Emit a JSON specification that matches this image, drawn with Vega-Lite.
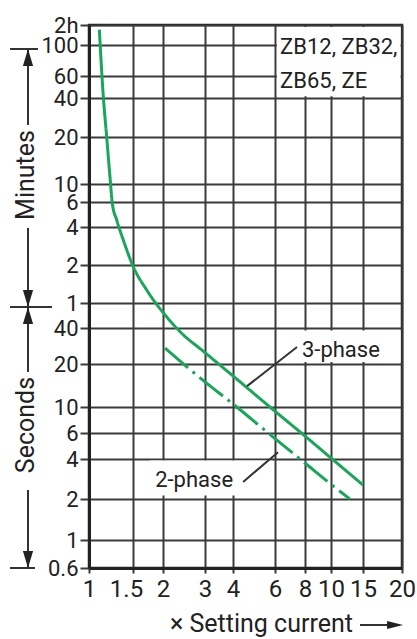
{
  "$schema": "https://vega.github.io/schema/vega-lite/v6.json",
  "autosize": {"type": "none"},
  "padding": {"left": 89, "top": 25, "right": 15, "bottom": 71},
  "width": 313,
  "height": 543,
  "background": "white",
  "datasets": {
    "boxes": [
      {"x": 6.11, "x2": 19.78, "y": 7070, "y2": 2480},
      {"x": 6.79, "x2": 19.78, "y": 38.1, "y2": 20.8},
      {"x": 1.766, "x2": 5.8, "y": 3.9, "y2": 2.125}
    ],
    "curves": [
      {"series": "3-phase", "x": 1.100, "y": 6900},
      {"series": "3-phase", "x": 1.141, "y": 2455},
      {"series": "3-phase", "x": 1.177, "y": 1205},
      {"series": "3-phase", "x": 1.213, "y": 668},
      {"series": "3-phase", "x": 1.240, "y": 352},
      {"series": "3-phase", "x": 1.291, "y": 269},
      {"series": "3-phase", "x": 1.372, "y": 189},
      {"series": "3-phase", "x": 1.505, "y": 116},
      {"series": "3-phase", "x": 1.711, "y": 76},
      {"series": "3-phase", "x": 2.07, "y": 48},
      {"series": "3-phase", "x": 2.36, "y": 37.2},
      {"series": "3-phase", "x": 3, "y": 24.9},
      {"series": "3-phase", "x": 4, "y": 16.5},
      {"series": "3-phase", "x": 6, "y": 9.2},
      {"series": "3-phase", "x": 8, "y": 5.72},
      {"series": "3-phase", "x": 10, "y": 4.06},
      {"series": "3-phase", "x": 15, "y": 2.55},
      {"series": "2-phase", "x": 2.04, "y": 27.1},
      {"series": "2-phase", "x": 3, "y": 15.0},
      {"series": "2-phase", "x": 4, "y": 10.5},
      {"series": "2-phase", "x": 6, "y": 5.5},
      {"series": "2-phase", "x": 8, "y": 3.73},
      {"series": "2-phase", "x": 10, "y": 2.58},
      {"series": "2-phase", "x": 12.7, "y": 2.0}
    ],
    "rules": [
      {"x": 0.570, "y": 5615, "x2": 0.570, "y2": 1486},
      {"x": 0.570, "y": 236, "x2": 0.570, "y2": 56.2},
      {"x": 0.570, "y": 56.2, "x2": 0.570, "y2": 17.6},
      {"x": 0.570, "y": 2.34, "x2": 0.570, "y2": 0.6},
      {"x": 0.483, "y": 5615, "x2": 0.625, "y2": 5615},
      {"x": 0.483, "y": 56.2, "x2": 0.711, "y2": 56.2},
      {"x": 0.483, "y": 0.6, "x2": 0.608, "y2": 0.6},
      {"x": 14.44, "y": 0.212, "x2": 18.3, "y2": 0.212},
      {"x": 7.41, "y": 27.7, "x2": 4.58, "y2": 14.0},
      {"x": 4.41, "y": 2.69, "x2": 6.18, "y2": 4.45}
    ],
    "arrows": [
      {"x": 0.570, "y": 5615, "dir": "up"},
      {"x": 0.570, "y": 56.2, "dir": "down"},
      {"x": 0.570, "y": 56.2, "dir": "up"},
      {"x": 0.570, "y": 0.6, "dir": "down"},
      {"x": 20.15, "y": 0.212, "dir": "right"}
    ],
    "sideLabels": [
      {"x": 0.562, "y": 685, "text": "Minutes"},
      {"x": 0.562, "y": 7.02, "text": "Seconds"}
    ],
    "notes": [
      {"x": 6.3, "y": 5810, "text": "ZB12, ZB32,"},
      {"x": 6.3, "y": 3283, "text": "ZB65, ZE"},
      {"x": 7.77, "y": 26.2, "text": "3-phase"},
      {"x": 1.855, "y": 2.78, "text": "2-phase"}
    ],
    "xTitle": [
      {"x": 13.2, "y": 0.216, "text": "× Setting current"}
    ]
  },
  "encoding": {
    "x": {
      "field": "x", "type": "quantitative",
      "scale": {"type": "log", "nice": false, "zero": false,
        "domain": [1, 1.5, 2, 3, 4, 6, 8, 10, 15, 20],
        "range": [0, 44, 74, 116, 144, 186, 216, 242, 274, 313]},
      "axis": {"values": [1, 1.5, 2, 3, 4, 6, 8, 10, 15, 20],
        "labelExpr": "'' + datum.value", "labelFlush": false, "labelOverlap": false,
        "labelFontSize": 24,
        "labelOffset": {"condition": {"test": "datum.value == 1.5", "value": -7}, "value": 0},
        "tickSize": 5, "labelPadding": 4, "title": null, "grid": true}
    },
    "y": {
      "field": "y", "type": "quantitative",
      "scale": {"type": "log", "nice": false, "zero": false,
        "domain": [0.6, 1, 2, 4, 6, 10, 20, 40, 60, 120, 240, 360, 600, 1200, 2400, 3600, 6000, 7200],
        "range": [543, 515, 474, 434, 408, 382, 339, 303, 278, 240, 202, 177, 159, 112, 73, 51, 20, 0]},
      "axis": {"values": [0.6, 1, 2, 4, 6, 10, 20, 40, 60, 120, 240, 360, 600, 1200, 2400, 3600, 6000, 7200],
        "labelExpr": "datum.value == 7200 ? '2h' : (datum.value >= 60 ? '' + (datum.value / 60) : '' + datum.value)",
        "labelOverlap": false, "labelFlush": false, "labelFontSize": 22,
        "tickSize": 9, "labelPadding": 2, "title": null, "grid": true}
    }
  },
  "layer": [
    {
      "data": {"name": "boxes"},
      "mark": {"type": "rect", "fill": "white", "strokeWidth": 0},
      "encoding": {"x2": {"field": "x2"}, "y2": {"field": "y2"}}
    },
    {
      "data": {"name": "curves"},
      "mark": {"type": "line", "color": "#1aa65a", "strokeWidth": 3, "interpolate": "monotone"},
      "encoding": {
        "strokeDash": {"field": "series", "type": "nominal",
          "scale": {"domain": ["3-phase", "2-phase"], "range": [[1, 0], [30, 6, 3, 6]]},
          "legend": null}
      }
    },
    {
      "data": {"name": "rules"},
      "mark": {"type": "rule", "color": "#333333", "strokeWidth": 2},
      "encoding": {"x2": {"field": "x2"}, "y2": {"field": "y2"}}
    },
    {
      "data": {"name": "arrows"},
      "mark": {"type": "point", "filled": true, "color": "#222222", "opacity": 1, "size": 1156, "strokeWidth": 0},
      "encoding": {
        "shape": {"field": "dir", "type": "nominal",
          "scale": {"domain": ["up", "down", "right"],
            "range": ["M0,0L-0.3,1L0.3,1Z", "M0,0L-0.3,-1L0.3,-1Z", "M0,0L-0.94,-0.24L-0.94,0.24Z"]},
          "legend": null}
      }
    },
    {
      "data": {"name": "sideLabels"},
      "mark": {"type": "text", "angle": 270, "align": "center", "baseline": "middle", "font": "Roboto", "fontSize": 25, "color": "#222222"},
      "encoding": {"text": {"field": "text"}}
    },
    {
      "data": {"name": "notes"},
      "mark": {"type": "text", "align": "left", "baseline": "middle", "font": "Roboto", "fontSize": 22, "color": "#222222"},
      "encoding": {"text": {"field": "text"}}
    },
    {
      "data": {"name": "xTitle"},
      "mark": {"type": "text", "align": "right", "baseline": "middle", "font": "Roboto", "fontSize": 25, "color": "#222222"},
      "encoding": {"text": {"field": "text"}}
    }
  ],
  "config": {
    "view": {"stroke": "#222222", "strokeWidth": 2.5},
    "font": "Roboto",
    "axis": {
      "gridColor": "#3a3a3a", "gridWidth": 2, "gridOpacity": 1,
      "domainColor": "#222222", "domainWidth": 3,
      "tickColor": "#3a3a3a", "tickWidth": 2,
      "labelFont": "Roboto", "labelFontSize": 25, "labelColor": "#222222"
    }
  }
}
